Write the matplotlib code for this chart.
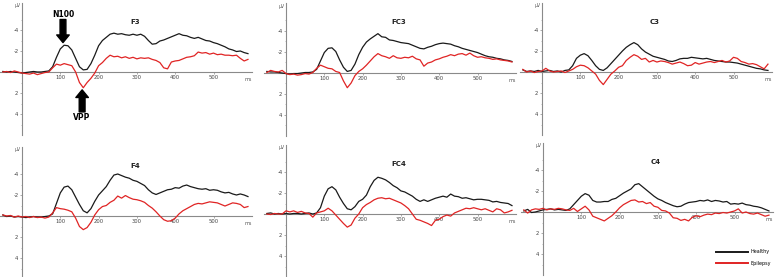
import numpy as np
import matplotlib
matplotlib.use("Agg")
import matplotlib.pyplot as plt
from matplotlib.lines import Line2D

# time axis (ms), one sample every 10 ms
t = np.arange(-50, 600, 10)

# amplitudes, upward deflection (negative voltage) positive
f3_healthy = [0.05, 0.0, 0.05, 0.0, -0.05, -0.1, -0.05, 0.0, 0.05, 0.0, 0.0, 0.05, 0.1,
              0.5, 1.4, 2.2, 2.55, 2.5, 2.1, 1.3, 0.5, 0.2, 0.25, 0.8, 1.6, 2.5, 3.0, 3.3,
              3.6, 3.7, 3.6, 3.65, 3.55, 3.5, 3.6, 3.5, 3.6, 3.4, 3.0, 2.65, 2.7, 2.95, 3.05,
              3.2, 3.35, 3.5, 3.65, 3.5, 3.45, 3.3, 3.2, 3.3, 3.15, 3.0, 2.95, 2.8, 2.7,
              2.55, 2.4, 2.2, 2.1, 1.95, 2.0, 1.85, 1.75]
f3_epilepsy = [0.0, 0.05, -0.05, 0.1, 0.0, -0.1, -0.15, -0.2, -0.1, -0.25, -0.15, -0.05, 0.0,
               0.4, 0.75, 0.65, 0.8, 0.7, 0.6, 0.0, -1.0, -1.5, -1.0, -0.6, -0.1, 0.6, 0.9,
               1.3, 1.6, 1.45, 1.5, 1.35, 1.45, 1.3, 1.4, 1.25, 1.35, 1.3, 1.35, 1.2, 1.1,
               0.9, 0.4, 0.3, 0.95, 1.05, 1.1, 1.25, 1.4, 1.45, 1.55, 1.9, 1.8, 1.85, 1.7,
               1.8, 1.65, 1.7, 1.6, 1.6, 1.55, 1.6, 1.3, 1.05, 1.2]
fc3_healthy = [0.1, 0.05, 0.05, 0.0, -0.05, -0.1, -0.15, -0.1, -0.1, -0.05, 0.0, 0.0, 0.05,
               0.3, 1.1, 1.9, 2.3, 2.35, 2.0, 1.2, 0.5, 0.1, 0.2, 0.8, 1.7, 2.4, 2.9, 3.2,
               3.45, 3.7, 3.4, 3.35, 3.1, 3.05, 2.95, 2.85, 2.8, 2.75, 2.6, 2.45, 2.3, 2.25,
               2.4, 2.5, 2.65, 2.75, 2.8, 2.75, 2.7, 2.55, 2.45, 2.3, 2.2, 2.1, 2.0, 1.9,
               1.75, 1.6, 1.5, 1.45, 1.35, 1.3, 1.2, 1.15, 1.05]
fc3_epilepsy = [0.0, 0.2, 0.1, 0.05, 0.2, -0.1, -0.2, -0.15, -0.25, -0.2, -0.1, -0.15, 0.0,
                0.4, 0.7, 0.55, 0.4, 0.35, 0.1, 0.0, -0.8, -1.45, -1.0, -0.3, 0.1, 0.35, 0.7,
                1.1, 1.5, 1.8, 1.6, 1.5, 1.35, 1.6, 1.4, 1.35, 1.45, 1.4, 1.55, 1.3, 1.2,
                0.6, 0.9, 1.0, 1.2, 1.3, 1.45, 1.55, 1.7, 1.6, 1.75, 1.8, 1.65, 1.85, 1.6,
                1.45, 1.5, 1.4, 1.35, 1.25, 1.3, 1.2, 1.15, 1.1, 1.0]
c3_healthy = [0.2, 0.05, 0.1, 0.05, 0.15, 0.05, 0.1, 0.15, 0.05, 0.1, 0.0, 0.15, 0.2,
              0.6, 1.3, 1.6, 1.75, 1.55, 1.1, 0.6, 0.25, 0.15, 0.4, 0.8, 1.2, 1.6, 2.0, 2.35,
              2.6, 2.8, 2.6, 2.2, 1.9, 1.7, 1.5, 1.4, 1.3, 1.2, 1.05, 1.0, 1.1, 1.25, 1.3,
              1.3, 1.4, 1.35, 1.3, 1.25, 1.3, 1.2, 1.1, 1.05, 1.0, 0.95, 0.95, 0.9, 0.85,
              0.75, 0.65, 0.55, 0.45, 0.35, 0.3, 0.2, 0.15]
c3_epilepsy = [0.25, 0.0, 0.1, -0.05, 0.05, 0.1, 0.35, 0.1, 0.0, 0.05, 0.1, -0.05, 0.1,
               0.25, 0.5, 0.65, 0.6, 0.4, 0.1, -0.2, -0.8, -1.2, -0.7, -0.2, 0.1, 0.45, 0.6,
               1.1, 1.4, 1.65, 1.5, 1.2, 1.3, 0.95, 1.1, 0.95, 1.05, 1.0, 0.9, 0.75, 0.85,
               0.95, 0.8, 0.6, 0.65, 0.9, 0.75, 0.85, 0.95, 1.0, 0.9, 1.0, 1.1, 0.95, 1.05,
               1.4, 1.3, 1.0, 0.9, 0.75, 0.8, 0.7, 0.5, 0.3, 0.75]
f4_healthy = [0.1, -0.05, 0.0, -0.1, -0.05, -0.1, -0.15, -0.1, -0.05, -0.1, -0.1, -0.05, 0.0,
              0.2, 1.2, 2.2, 2.75, 2.85, 2.5, 1.8, 1.1, 0.5, 0.3, 0.7, 1.4, 2.0, 2.4, 2.8,
              3.4, 3.9, 4.0, 3.85, 3.7, 3.6, 3.4, 3.3, 3.1, 2.9, 2.5, 2.2, 2.05, 2.2, 2.35,
              2.5, 2.55, 2.7, 2.65, 2.85, 2.95, 2.8, 2.7, 2.6, 2.55, 2.6, 2.45, 2.5, 2.45,
              2.3, 2.2, 2.25, 2.1, 2.0, 2.1, 2.0, 1.85]
f4_epilepsy = [0.1, 0.0, 0.05, -0.1, 0.0, -0.1, -0.05, -0.15, -0.05, -0.15, -0.1, -0.2, -0.1,
               0.3, 0.8, 0.7, 0.65, 0.55, 0.4, -0.2, -1.0, -1.3, -1.1, -0.6, 0.1, 0.6, 0.9,
               1.0, 1.3, 1.5, 1.9, 1.7, 1.95, 1.75, 1.6, 1.55, 1.45, 1.3, 1.0, 0.75, 0.4,
               0.0, -0.35, -0.5, -0.45, -0.2, 0.2, 0.5, 0.7, 0.9, 1.1, 1.2, 1.15, 1.25, 1.35,
               1.3, 1.25, 1.1, 0.95, 1.1, 1.25, 1.2, 1.1, 0.8, 0.9]
fc4_healthy = [0.05, 0.1, 0.0, 0.05, 0.0, 0.05, 0.0, 0.05, 0.05, 0.0, 0.05, 0.1, 0.0,
               0.1, 0.6, 1.7, 2.4, 2.6, 2.3, 1.6, 1.0, 0.5, 0.4, 0.7, 1.2, 1.4, 1.8, 2.6,
               3.2, 3.5, 3.4, 3.25, 3.0, 2.7, 2.5, 2.2, 2.1, 1.9, 1.7, 1.4, 1.2, 1.35, 1.2,
               1.35, 1.5, 1.6, 1.7, 1.6, 1.9, 1.7, 1.65, 1.5, 1.55, 1.45, 1.35, 1.4, 1.4,
               1.35, 1.3, 1.15, 1.2, 1.1, 1.05, 1.0, 0.8]
fc4_epilepsy = [0.0, -0.05, 0.05, 0.0, 0.0, 0.3, 0.2, 0.3, 0.15, 0.25, 0.1, 0.05, -0.3,
                0.1, 0.2, 0.3, 0.55, 0.3, -0.1, -0.5, -0.9, -1.25, -1.05, -0.4, 0.0, 0.6, 0.9,
                1.1, 1.35, 1.5, 1.55, 1.45, 1.5, 1.35, 1.2, 1.05, 0.8, 0.5, 0.0, -0.5, -0.6,
                -0.75, -0.9, -1.1, -0.6, -0.5, -0.25, -0.1, -0.2, 0.1, 0.25, 0.4, 0.55, 0.5,
                0.6, 0.5, 0.4, 0.5, 0.35, 0.2, 0.5, 0.4, 0.1, 0.2, 0.35]
c4_healthy = [0.1, 0.25, -0.05, 0.0, 0.1, 0.2, 0.25, 0.3, 0.2, 0.25, 0.2, 0.15, 0.3,
              0.7, 1.1, 1.5, 1.75, 1.6, 1.1, 0.95, 0.95, 1.0, 1.0, 1.2, 1.3, 1.55, 1.8, 2.0,
              2.2, 2.6, 2.7, 2.4, 2.1, 1.8, 1.5, 1.25, 1.1, 0.9, 0.75, 0.6, 0.5, 0.55, 0.75,
              0.9, 0.95, 1.0, 1.1, 1.05, 1.15, 1.0, 1.1, 1.05, 0.95, 1.0, 0.75, 0.8, 0.75,
              0.85, 0.7, 0.65, 0.55, 0.5, 0.4, 0.25, 0.1]
c4_epilepsy = [0.2, -0.1, 0.2, 0.3, 0.25, 0.35, 0.2, 0.3, 0.25, 0.35, 0.3, 0.2, 0.15,
               0.35, 0.05, 0.3, 0.55, 0.2, -0.4, -0.55, -0.7, -0.85, -0.6, -0.35, 0.0, 0.4,
               0.7, 0.9, 1.1, 1.15, 0.95, 1.0, 0.8, 0.9, 0.55, 0.45, 0.15, 0.1, -0.1, -0.55,
               -0.6, -0.8, -0.7, -0.85, -0.5, -0.35, -0.45, -0.3, -0.2, -0.25, -0.1, -0.15,
               -0.05, -0.1, 0.0, 0.1, 0.3, -0.1, 0.0, -0.15, -0.2, -0.1, -0.25, -0.4, -0.3]

names = ["F3", "FC3", "C3", "F4", "FC4", "C4"]
healthy = [f3_healthy, fc3_healthy, c3_healthy, f4_healthy, fc4_healthy, c4_healthy]
epilepsy = [f3_epilepsy, fc3_epilepsy, c3_epilepsy, f4_epilepsy, fc4_epilepsy, c4_epilepsy]

W, H = 777, 277
fig = plt.figure(figsize=(W / 100, H / 100), dpi=100)
fig.patch.set_facecolor("white")

# pixel position of (0 ms, 0 uV) for each panel
origins = [(22, 72), (286, 72.5), (542, 72), (22, 216), (286, 214), (543, 212)]
px_ms = 0.383
px_uv = 10.5
x0, x1 = -58, 600
y_top, y_bot = -6.6, 6.0

GREY = "#8a8a8a"
RED = "#e02424"
BLACK = "#1a1a1a"

axes = []
for k in range(6):
    ox, oy = origins[k]
    left = ox + x0 * px_ms
    width = (x1 - x0) * px_ms
    top = oy + y_top * px_uv
    height = (y_bot - y_top) * px_uv
    ax = fig.add_axes([left / W, 1 - (top + height) / H, width / W, height / H])
    ax.set_xlim(x0, x1)
    ax.set_ylim(y_bot, y_top)
    ax.patch.set_alpha(0)

    ax.plot(t, -np.array(healthy[k]), color=BLACK, lw=0.9, zorder=3)
    ax.plot(t, -np.array(epilepsy[k]), color=RED, lw=0.9, zorder=4)

    for s in ["top", "right"]:
        ax.spines[s].set_visible(False)
    ax.spines["left"].set_position(("data", 0))
    ax.spines["bottom"].set_position(("data", 0))
    for s in ["left", "bottom"]:
        ax.spines[s].set_color(GREY)
        ax.spines[s].set_linewidth(0.8)

    ax.set_xticks([100, 200, 300, 400, 500])
    ax.set_yticks([-4, -2, 2, 4])
    ax.set_yticks([-5, -3, -1, 1, 3, 5], minor=True)
    ax.set_yticklabels(["-4", "-2", "2", "4"])
    ax.tick_params(axis="both", which="major", labelsize=3.8, length=1.5, width=0.5,
                   color=GREY, labelcolor="#444444", pad=1)
    ax.tick_params(axis="y", which="minor", length=1, width=0.4, color=GREY)

    ax.text(-4, -6.3, "µV", fontsize=3.3, color="#555555", ha="right", va="center")
    ax.text(590, 0.5, "ms", fontsize=3.5, color="#555555", ha="center", va="top")
    ax.text(295, -4.8, names[k], fontsize=5, fontweight="bold", color="#222222",
            ha="center", va="center")
    axes.append(ax)

# N100 / VPP markers on F3
ax = axes[0]
arrow = dict(facecolor="black", edgecolor="black", width=4.2, headwidth=9, headlength=5.5)
ax.annotate("", xy=(107, -2.8), xytext=(107, -5.0), arrowprops=arrow)
ax.text(107, -5.45, "N100", fontsize=5.5, fontweight="bold", ha="center", va="center")
ax.annotate("", xy=(157, 1.7), xytext=(157, 3.8), arrowprops=arrow)
ax.text(157, 4.35, "VPP", fontsize=5.5, fontweight="bold", ha="center", va="center")

handles = [Line2D([], [], color=BLACK, lw=1.4), Line2D([], [], color=RED, lw=1.4)]
fig.legend(handles, ["Healthy", "Epilepsy"], loc="upper left",
           bbox_to_anchor=(714 / W, 1 - 247 / H), frameon=False, fontsize=3.5,
           handlelength=6.5, handletextpad=0.6, labelspacing=1.3, borderpad=0)

fig.savefig("out.png", dpi=100, facecolor="white")
